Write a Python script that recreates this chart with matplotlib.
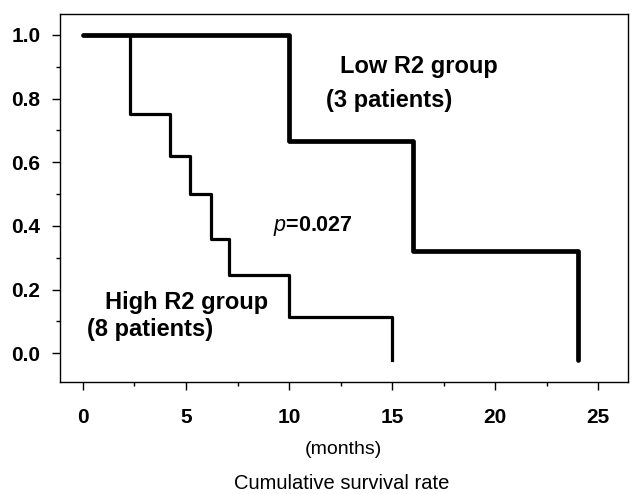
import matplotlib.pyplot as plt
from matplotlib.ticker import MultipleLocator

# Kaplan-Meier step data
low_t = [0, 10, 16, 24, 24]
low_s = [1.0, 0.667, 0.32, 0.32, -0.02]
high_t = [0, 2.3, 4.2, 5.2, 6.2, 7.1, 10, 15, 15]
high_s = [1.0, 0.75, 0.62, 0.5, 0.36, 0.245, 0.115, 0.115, -0.02]

x_ticks = [0, 5, 10, 15, 20, 25]
y_ticks = [0.0, 0.2, 0.4, 0.6, 0.8, 1.0]

plt.rcParams['font.family'] = ['Liberation Sans', 'DejaVu Sans']
plt.rcParams['mathtext.fontset'] = 'custom'
plt.rcParams['mathtext.it'] = 'Liberation Sans:italic'

fig = plt.figure(figsize=(6.37, 4.94), dpi=100)
ax = fig.add_axes([0.094, 0.227, 0.892, 0.745])

ax.step(low_t, low_s, where='post', color='black', lw=3.4, solid_capstyle='round')
ax.step(high_t, high_s, where='post', color='black', lw=2.3)

ax.set_xlim(-1.12, 26.45)
ax.set_ylim(-0.09, 1.066)
ax.set_xticks(x_ticks)
ax.set_yticks(y_ticks)
ax.set_yticklabels([f"{v:.1f}" for v in y_ticks])
ax.xaxis.set_minor_locator(MultipleLocator(2.5))
ax.yaxis.set_minor_locator(MultipleLocator(0.1))
ax.tick_params(which='major', length=6, width=1, direction='out', labelsize=15)
ax.tick_params(which='minor', length=3, width=1, direction='out')
ax.tick_params(axis='x', pad=13)
ax.tick_params(axis='y', pad=8)
for lab in ax.get_xticklabels() + ax.get_yticklabels():
    lab.set_fontweight('bold')
for sp in ax.spines.values():
    sp.set_linewidth(1.0)

ax.text(12.45, 0.90, "Low R2 group", fontsize=17, fontweight='bold', va='center')
ax.text(11.8, 0.795, "(3 patients)", fontsize=17, fontweight='bold', va='center')
ax.text(9.2, 0.40, r"$p$=0.027", fontsize=15.5, fontweight='bold', va='center')
ax.text(1.05, 0.16, "High R2 group", fontsize=17, fontweight='bold', va='center')
ax.text(0.22, 0.075, "(8 patients)", fontsize=17, fontweight='bold', va='center')

fig.text(0.539, 0.091, "(months)", fontsize=14, ha='center', va='center')
fig.text(0.537, 0.022, "Cumulative survival rate", fontsize=14.5, ha='center', va='center')

fig.savefig("out.png", dpi=100)
